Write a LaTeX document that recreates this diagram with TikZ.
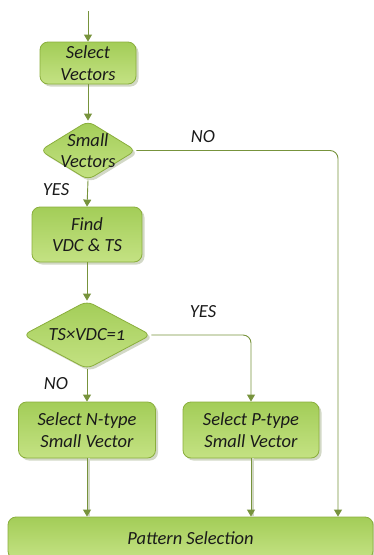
\documentclass[tikz,border=0pt]{standalone}
\usepackage{fontspec}
\setmainfont{Carlito}
\usetikzlibrary{arrows.meta,shapes.geometric,shadows}
\definecolor{lineg}{HTML}{77933C}
\definecolor{edgeg}{HTML}{8AAE3C}
\definecolor{topg}{HTML}{A3CD58}
\definecolor{botg}{HTML}{C4E283}
\definecolor{txtc}{HTML}{1A1A1A}
\definecolor{shadowg}{HTML}{D2D8C6}
\begin{document}
\begin{tikzpicture}[x=1pt,y=-1pt,
  txt/.style={font=\fontsize{18.5}{21.5}\selectfont\itshape, text=txtc, align=center},
  boxg/.style={draw=edgeg, line width=0.8pt, top color=topg, bottom color=botg,
    rounded corners=8pt, inner sep=0pt, txt,
    drop shadow={shadow xshift=2.5pt, shadow yshift=-2.5pt, fill=shadowg, opacity=1}},
  diag/.style={shape=diamond, draw=edgeg, line width=0.8pt, top color=topg, bottom color=botg,
    rounded corners=7pt, inner sep=0pt,
    drop shadow={shadow xshift=2.5pt, shadow yshift=-2.5pt, fill=shadowg, opacity=1}},
  conn/.style={draw=lineg, line width=0.9pt, rounded corners=8pt,
    -{Triangle[width=8pt,length=7pt]}},
  shline/.style={draw=shadowg, line width=1.6pt},
  lab/.style={font=\fontsize{18.5}{21}\selectfont\itshape, text=txtc}
]
\useasboundingbox (0,0) rectangle (374,555);
\begin{scope}
\clip (0,0) rectangle (374,555);

% nodes
\coordinate (start) at (88,11);
\node[boxg, minimum width=96pt, minimum height=42pt] (sv) at (88,63) {Select\\Vectors};
\node[diag, minimum width=96pt, minimum height=59pt,
  label={[txt]center:Small\\Vectors}] (d1) at (88,150.5) {};
\node[boxg, minimum width=110pt, minimum height=55pt] (fv) at (87,234.5) {Find\\VDC \& TS};
\node[diag, minimum width=128pt, minimum height=68pt,
  label={[txt]center:{TS×VDC=\addfontfeatures{Numbers=OldStyle}1}}] (d2) at (87,335) {};
\node[boxg, minimum width=137pt, minimum height=56pt] (nb) at (87,430) {Select N-type\\Small Vector};
\node[boxg, minimum width=136pt, minimum height=56pt] (pb) at (251,430) {Select P-type\\Small Vector};
\node[boxg, minimum width=365pt, minimum height=42pt] (pat) at (190.5,538) {Pattern Selection};

\coordinate (c1) at (338,150.5);
\coordinate (c2) at (251,335);

% shadow lines of lower arrows
\draw[shline] ([xshift=2pt]nb.south) -- ([xshift=2pt]nb.south |- pat.north);
\draw[shline] ([xshift=2pt]pb.south) -- ([xshift=2pt]pb.south |- pat.north);

% connectors
\draw[conn] (start) -- (sv.north);
\draw[conn] (sv.south) -- (d1.north);
\draw[conn] (d1.south) -- (fv.north);
\draw[conn] (fv.south) -- (d2.north);
\draw[conn] (d2.south) -- (nb.north);
\draw[conn] (d1.east) -- (c1) -- (c1 |- pat.north);
\draw[conn] (d2.east) -- (c2) -- (pb.north);
\draw[conn] (nb.south) -- (nb.south |- pat.north);
\draw[conn] (pb.south) -- (pb.south |- pat.north);

% labels
\node[lab] (l1) at (203,137) {NO};
\node[lab] (l2) at (56,190) {YES};
\node[lab] (l3) at (203,312) {YES};
\node[lab] (l4) at (56,384) {NO};
\end{scope}
\end{tikzpicture}
\end{document}
